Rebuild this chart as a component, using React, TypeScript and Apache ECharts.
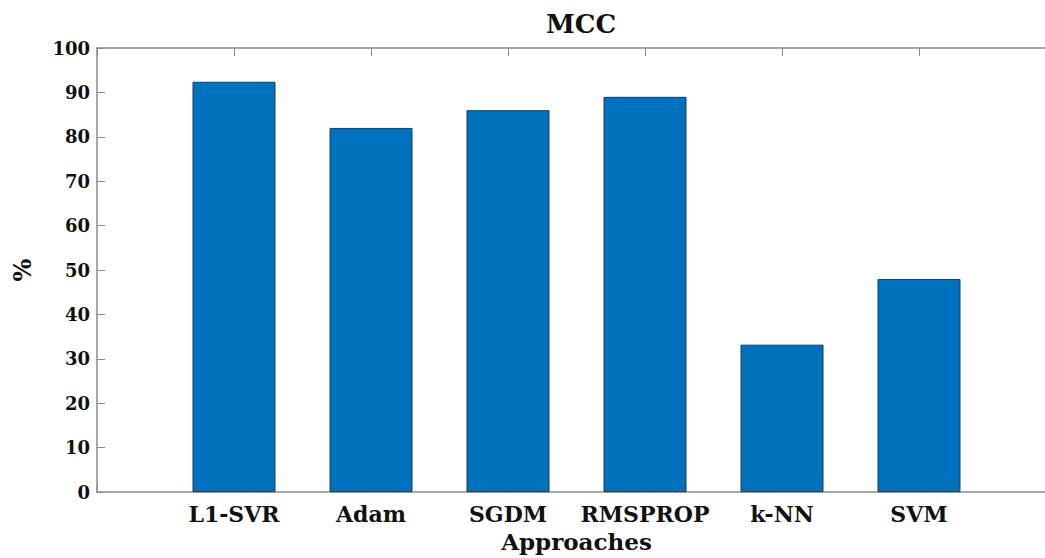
import React, { useEffect, useRef } from "react";
import * as echarts from "echarts";

const categories = ["L1-SVR", "Adam", "SGDM", "RMSPROP", "k-NN", "SVM"];
const values = [92.4, 82, 86, 89, 33.2, 48];
const yTicks = [0, 100, 10]; // min, max, interval
const title = "MCC";
const xName = "Approaches";
const yName = "%";

const FONT = "DejaVu Serif";
const AXIS_COLOR = "#8a8a8a";
const TEXT_COLOR = "#111111";

export default function App() {
  const ref = useRef<HTMLDivElement>(null);
  useEffect(() => {
    if (!ref.current) return;
    const chart = echarts.init(ref.current, null, { renderer: "svg" });
    const mkTick = () => ({ show: true, inside: true, length: 8, lineStyle: { color: AXIS_COLOR, width: 1 } });
    const mkLine = () => ({ show: true, onZero: false, lineStyle: { color: AXIS_COLOR, width: 1.5 } });
    chart.setOption({
      animation: false,
      backgroundColor: "#ffffff",
      title: {
        text: title,
        left: 576,
        top: 6,
        textAlign: "center",
        textStyle: { fontFamily: FONT, fontWeight: "bold", fontSize: 26, color: TEXT_COLOR },
      },
      grid: { left: 97, top: 48, width: 959, height: 447, containLabel: false },
      xAxis: [
        {
          type: "value",
          min: 0,
          max: categories.length + 1,
          interval: 1,
          position: "bottom",
          axisLine: mkLine(),
          axisTick: mkTick(),
          splitLine: { show: false },
          axisLabel: {
            margin: 11,
            fontFamily: FONT,
            fontWeight: "bold",
            fontSize: 22,
            color: TEXT_COLOR,
            formatter: (v: number) => categories[v - 1] ?? "",
          },
          name: xName,
          nameLocation: "middle",
          nameGap: 37,
          nameTextStyle: { fontFamily: FONT, fontWeight: "bold", fontSize: 23, color: TEXT_COLOR },
        },
        {
          type: "value",
          min: 0,
          max: categories.length + 1,
          interval: 1,
          position: "top",
          axisLine: mkLine(),
          axisTick: mkTick(),
          splitLine: { show: false },
          axisLabel: { show: false },
        },
      ],
      yAxis: [
        {
          type: "value",
          min: yTicks[0],
          max: yTicks[1],
          interval: yTicks[2],
          position: "left",
          axisLine: mkLine(),
          axisTick: mkTick(),
          splitLine: { show: false },
          axisLabel: { margin: 7, fontFamily: FONT, fontWeight: "bold", fontSize: 18, color: TEXT_COLOR },
          name: yName,
          nameLocation: "middle",
          nameGap: 63,
          nameTextStyle: { fontFamily: FONT, fontWeight: "bold", fontSize: 24, color: TEXT_COLOR },
        },
        {
          type: "value",
          min: yTicks[0],
          max: yTicks[1],
          interval: yTicks[2],
          position: "right",
          axisLine: mkLine(),
          axisTick: mkTick(),
          splitLine: { show: false },
          axisLabel: { show: false },
        },
      ],
      series: [
        {
          type: "bar",
          xAxisIndex: 0,
          yAxisIndex: 0,
          barWidth: 83,
          data: categories.map((c, i) => [i + 1, values[i]]),
          itemStyle: { color: "#0072BD", borderColor: "#1d3b5c", borderWidth: 1 },
        },
      ],
    });
    return () => chart.dispose();
  }, []);
  return (
    <div style={{ position: "fixed", left: 0, top: 0, width: 1045, height: 558, overflow: "hidden", background: "#fff" }}>
      <div ref={ref} style={{ width: 1075, height: 558 }} />
    </div>
  );
}
